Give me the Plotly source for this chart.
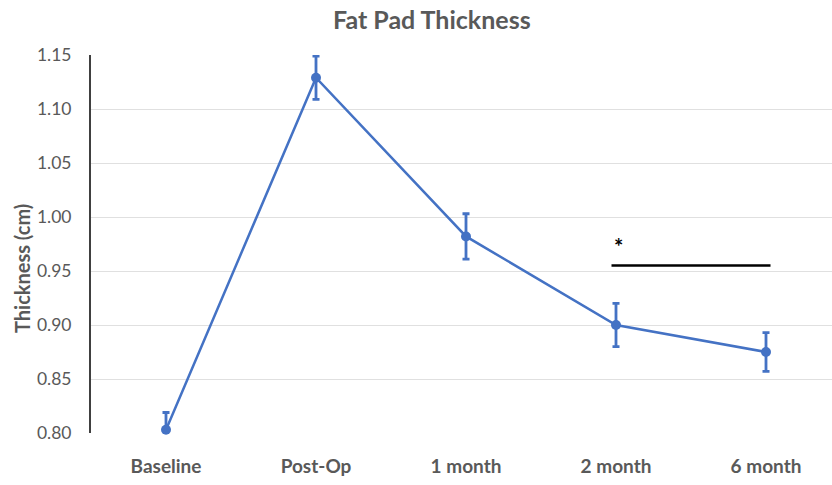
import plotly.graph_objects as go

# Fat pad thickness over follow-up visits (mean ± error)
timepoints = ["Baseline", "Post-Op", "1 month", "2 month", "6 month"]
thickness = [0.803, 1.129, 0.982, 0.900, 0.875]
error = [0.016, 0.020, 0.021, 0.020, 0.018]

# significance bracket between 2 month and 6 month
sig_from = "2 month"
sig_to = "6 month"
sig_level = 0.955
sig_label = "*"

y_ticks = [0.80, 0.85, 0.90, 0.95, 1.00, 1.05, 1.10, 1.15]

blue = "#4472C4"
grey_text = "#595959"
font_family = "Lato, 'Open Sans', sans-serif"

fig = go.Figure()

fig.add_trace(go.Scatter(
    x=timepoints,
    y=thickness,
    mode="lines+markers",
    line=dict(color=blue, width=2.5),
    marker=dict(color=blue, size=10),
    error_y=dict(type="data", array=error, visible=True,
                 color=blue, thickness=2.8, width=3.5),
    cliponaxis=False,
    showlegend=False,
))

i0 = timepoints.index(sig_from)
i1 = timepoints.index(sig_to)
fig.add_shape(type="line", xref="x", yref="y",
              x0=i0 - 0.03, x1=i1 + 0.03, y0=sig_level, y1=sig_level,
              line=dict(color="black", width=2.5))
fig.add_annotation(x=i0, y=sig_level, xref="x", yref="y",
                   text="<b>" + sig_label + "</b>", showarrow=False,
                   xshift=2, yshift=19,
                   font=dict(family=font_family, size=22, color="black"))

# y-axis title, placed a little below the plot's vertical centre
fig.add_annotation(x=-0.093, y=0.434, xref="paper", yref="paper",
                   text="<b>Thickness (cm)</b>", textangle=-90,
                   showarrow=False, xanchor="center", yanchor="middle",
                   font=dict(family=font_family, size=20, color=grey_text))

fig.update_layout(
    width=832, height=485,
    margin=dict(l=91, r=0, t=55, b=52),
    paper_bgcolor="white",
    plot_bgcolor="white",
    title=dict(text="<b>Fat Pad Thickness</b>", x=0.519, xanchor="center",
               y=0.958, yanchor="middle",
               font=dict(family=font_family, size=25, color=grey_text)),
    font=dict(family=font_family, color=grey_text),
)

fig.update_xaxes(
    type="category",
    range=[-0.5, 4.44],
    showgrid=False,
    showline=False,
    ticks="",
    tickfont=dict(family=font_family, size=19, color=grey_text, weight="bold"),
    ticklabelstandoff=20,
)
fig.update_yaxes(
    range=[0.80, 1.15],
    tickvals=y_ticks,
    ticktext=[f"{v:.2f}" for v in y_ticks],
    showgrid=True,
    gridcolor="#e0e0e0",
    gridwidth=1,
    showline=True,
    linecolor="#404040",
    linewidth=2,
    zeroline=False,
    ticks="",
    ticklabelstandoff=14,
    tickfont=dict(family=font_family, size=17.5, color=grey_text),
)

fig.write_html("out.html")
